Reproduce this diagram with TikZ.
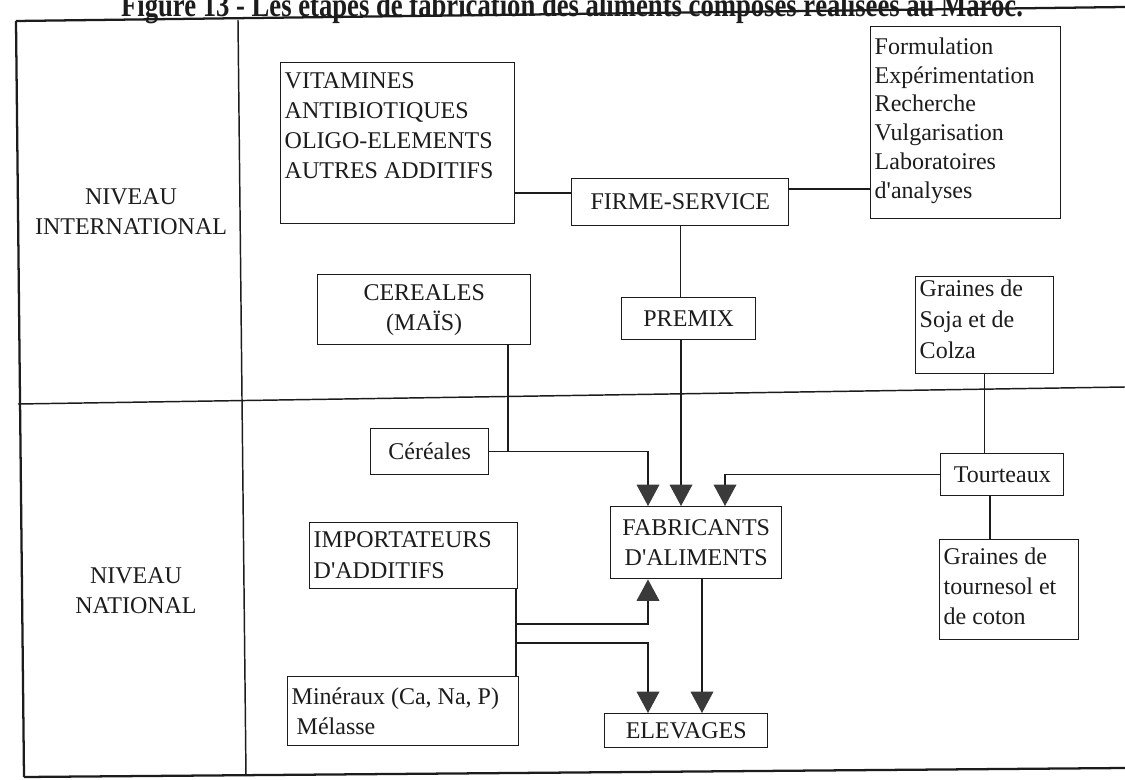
\documentclass[tikz,border=0pt]{standalone}
\usepackage{fontspec}
\usepackage{graphicx}
\setmainfont{Liberation Serif}[Ligatures=TeXOff]
\usetikzlibrary{arrows.meta}
\newdimen\px \px=0.75pt
\definecolor{tipgray}{HTML}{3A3A3A}
\definecolor{ink}{HTML}{1C1C1C}
\tikzset{
  boxst/.style={draw=ink, line width=1.1pt, text=ink, font=\fontsize{18}{22.5}\selectfont},
  link/.style={draw=ink, line width=1pt},
  arr/.style={link, -{Triangle[width=17pt,length=16pt,color=tipgray]}},
  frame/.style={draw=ink, line width=1.7pt},
  divline/.style={draw=ink, line width=1.1pt},
  lvl/.style={text=ink, font=\fontsize{18}{22.5}\selectfont, align=center}
}
% name x1 y1 x2 y2 padleft firstbaseline content
\newcommand\lbox[8]{%
  \node[boxst,anchor=north west,inner sep=0pt] (#1) at (#2,#3)
  {\parbox[c][\dimexpr#5\px-#3\px\relax][t]{\dimexpr#4\px-#2\px\relax}{%
     \leftskip=#6\px\rightskip=0pt plus 1fil\parindent=0pt
     \vspace*{\dimexpr#7\px-#3\px-16\px\relax}\rule{0pt}{16\px}#8\par}};}
% name x1 y1 x2 y2 content
\newcommand\cbox[6]{%
  \node[boxst,anchor=north west,inner sep=0pt,align=center,
        minimum width={(#4-#2)*0.75pt},minimum height={(#5-#3)*0.75pt}] (#1) at (#2,#3) {#6};}

\begin{document}
\begin{tikzpicture}[x=0.75pt,y=-0.75pt]
\useasboundingbox (0,0) rectangle (1125,780);
\clip (0,0) rectangle (1125,780);
\fill[white] (0,0) rectangle (1125,780);

% title (cut off by the top edge, as in the scan)
\node[text=ink, font=\bfseries\fontsize{25}{28}\selectfont, anchor=base] (title) at (572,17)
  {\scalebox{0.8}[1]{Figure 13 - Les étapes de fabrication des aliments composés réalisées au Maroc.}};

% frame
\draw[frame] (16,21) -- (1125,7);
\draw[frame] (16,21) -- (24,777);
\draw[frame] (24,777) -- (1125,768);
\draw[divline] (238,20) -- (246,776);
\draw[divline] (18,404) -- (1125,387);

% level labels
\node[lvl] (lvlint) at (131,212) {NIVEAU\\INTERNATIONAL};
\node[lvl] (lvlnat) at (136,591) {NIVEAU\\NATIONAL};

% boxes
\lbox{vit}{280}{62}{514}{223}{4}{88}{VITAMINES\\ANTIBIOTIQUES\\OLIGO-ELEMENTS\\AUTRES ADDITIFS}
\cbox{firme}{571}{178}{788}{225}{FIRME-SERVICE}
\lbox{form}{870}{26}{1060}{218}{4}{53}{\baselineskip=28.8\px Formulation\\Expérimentation\\Recherche\\Vulgarisation\\Laboratoires\\d'analyses}
\cbox{cer}{317}{274}{530}{344}{CEREALES\\(MAÏS)}
\cbox{premix}{621}{297}{755}{339}{PREMIX}
\lbox{soja}{915}{276}{1053}{373}{4}{295}{\baselineskip=31\px Graines de\\Soja et de\\Colza}
\cbox{cerl}{370}{428}{488}{474}{Céréales}
\cbox{tour}{940}{453}{1063}{495}{Tourteaux}
\cbox{fab}{610}{506}{781}{578}{FABRICANTS\\D'ALIMENTS}
\lbox{imp}{309}{522}{517}{588}{4}{547}{\baselineskip=31\px IMPORTATEURS\\D'ADDITIFS}
\lbox{tourn}{939}{539}{1078}{639}{4}{563}{\baselineskip=30\px Graines de\\tournesol et\\de coton}
\lbox{min}{287}{676}{518}{745}{4}{703}{\baselineskip=30\px Minéraux (Ca, Na, P)\\\hspace*{5\px}Mélasse}
\cbox{elev}{604}{713}{767}{747}{ELEVAGES}

% helper coordinates
\coordinate (yA) at (0,193);
\coordinate (yB) at (0,189);
\coordinate (xCer) at (508,0);
\coordinate (xA) at (648,0);
\coordinate (xP) at (681,0);
\coordinate (xT) at (725,0);
\coordinate (xTT) at (990,0);
\coordinate (xImp) at (516,0);
\coordinate (yUp) at (0,624);
\coordinate (yDn) at (0,643);
\coordinate (xFE) at (702,0);
\coordinate (jUp) at (xImp |- yUp);
\coordinate (jDn) at (xImp |- yDn);

% connectors
\draw[link] (vit.east |- yA) -- (firme.west |- yA);
\draw[link] (firme.east |- yB) -- (form.west |- yB);
\draw[link] (firme.south) -- (firme.south |- premix.north);
\draw[arr] (premix.south -| xP) -- (fab.north -| xP);
\draw[link] (cer.south -| xCer) -- (xCer |- cerl.east);
\draw[arr] (cerl.east) -- (cerl.east -| xA) -- (fab.north -| xA);
\draw[link] (soja.south) -- (soja.south |- tour.north);
\draw[arr] (tour.west) -- (tour.west -| xT) -- (fab.north -| xT);
\draw[link] (tour.south -| xTT) -- (tourn.north -| xTT);
\draw[link] (imp.south -| xImp) -- (min.north -| xImp);
\draw[arr] (jUp) -- (xA |- jUp) -- (fab.south -| xA);
\draw[arr] (jDn) -- (xA |- jDn) -- (elev.north -| xA);
\draw[arr] (fab.south -| xFE) -- (elev.north -| xFE);
\end{tikzpicture}
\end{document}
